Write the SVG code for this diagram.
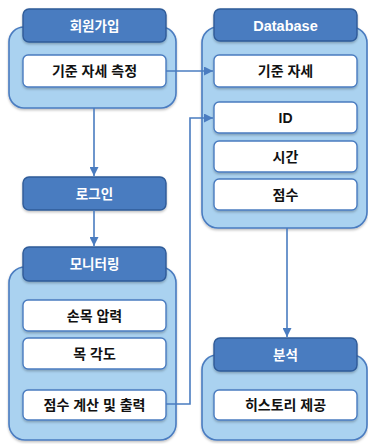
<svg xmlns="http://www.w3.org/2000/svg" width="368" height="444" viewBox="0 0 368 444">
<defs>
<style>
.cont{fill:#aad2f0;stroke:#4a7cc0;stroke-width:1.6}
.head{fill:#4a7cc0;stroke:#2f5b98;stroke-width:1.4}
.item{fill:#ffffff;stroke:#4a7cc0;stroke-width:1.4}
.ht{font-family:"Liberation Sans","Noto Sans CJK KR",sans-serif;font-weight:bold;font-size:13.5px;fill:#ffffff;text-anchor:middle}
.it{font-family:"Liberation Sans","Noto Sans CJK KR",sans-serif;font-weight:bold;font-size:14px;fill:#111111;text-anchor:middle}
.conn{fill:none;stroke:#4a7cc0;stroke-width:1.6}
</style>
<marker id="arr" viewBox="0 0 10 10" refX="10" refY="5" markerWidth="9" markerHeight="9" orient="auto" markerUnits="userSpaceOnUse">
<path d="M0,0 L10,5 L0,10 z" fill="#4a7cc0"/>
</marker>
<filter id="sh" x="-10%" y="-10%" width="120%" height="130%">
<feDropShadow dx="0" dy="1.5" stdDeviation="1.2" flood-color="#000" flood-opacity="0.25"/>
</filter>
</defs>
<rect width="368" height="444" fill="#ffffff"/>

<g id="signup">
<rect class="cont" x="9" y="27" width="167" height="81" rx="15" filter="url(#sh)"/>
<rect class="head" x="23" y="9" width="143" height="33" rx="6" filter="url(#sh)"/>
<text class="ht" x="94.5" y="30.5">회원가입</text>
<g id="signup-measure">
<rect class="item" x="23" y="55" width="143" height="32" rx="5" filter="url(#sh)"/>
<text class="it" x="94.5" y="76">기준 자세 측정</text>
</g>
</g>

<g id="database">
<rect class="cont" x="202" y="27" width="165" height="201" rx="16" filter="url(#sh)"/>
<rect class="head" x="214" y="9" width="143" height="32" rx="6" filter="url(#sh)"/>
<text class="ht" x="285.5" y="30.5" style="font-size:14.5px">Database</text>
<g id="db-pose">
<rect class="item" x="214" y="55" width="143" height="32" rx="5" filter="url(#sh)"/>
<text class="it" x="285.5" y="76">기준 자세</text>
</g>
<g id="db-id">
<rect class="item" x="214" y="102" width="143" height="31" rx="5" filter="url(#sh)"/>
<text class="it" x="285.5" y="122.5">ID</text>
</g>
<g id="db-time">
<rect class="item" x="214" y="141" width="143" height="31" rx="5" filter="url(#sh)"/>
<text class="it" x="285.5" y="161.5">시간</text>
</g>
<g id="db-score">
<rect class="item" x="214" y="179" width="143" height="31" rx="5" filter="url(#sh)"/>
<text class="it" x="285.5" y="199.5">점수</text>
</g>
</g>

<g id="login">
<rect class="head" x="23" y="177" width="143" height="33" rx="6" filter="url(#sh)"/>
<text class="ht" x="94.5" y="198.5">로그인</text>
</g>

<g id="monitoring">
<rect class="cont" x="9" y="267" width="167" height="173" rx="16" filter="url(#sh)"/>
<rect class="head" x="23" y="247" width="143" height="34" rx="6" filter="url(#sh)"/>
<text class="ht" x="94.5" y="269">모니터링</text>
<g id="mon-wrist">
<rect class="item" x="23" y="300" width="143" height="31" rx="5" filter="url(#sh)"/>
<text class="it" x="94.5" y="320.5">손목 압력</text>
</g>
<g id="mon-neck">
<rect class="item" x="23" y="338" width="143" height="31" rx="5" filter="url(#sh)"/>
<text class="it" x="94.5" y="358.5">목 각도</text>
</g>
<g id="mon-score">
<rect class="item" x="23" y="390" width="143" height="30" rx="5" filter="url(#sh)"/>
<text class="it" x="94.5" y="410">점수 계산 및 출력</text>
</g>
</g>

<g id="analysis">
<rect class="cont" x="202" y="355" width="165" height="85" rx="15" filter="url(#sh)"/>
<rect class="head" x="214" y="338" width="143" height="33" rx="6" filter="url(#sh)"/>
<text class="ht" x="285.5" y="359.5">분석</text>
<g id="an-history">
<rect class="item" x="214" y="390" width="143" height="30" rx="5" filter="url(#sh)"/>
<text class="it" x="285.5" y="410">히스토리 제공</text>
</g>
</g>

<g id="connectors">
<path class="conn" d="M166,71 H213" marker-end="url(#arr)"/>
<path class="conn" d="M94,108 V176" marker-end="url(#arr)"/>
<path class="conn" d="M94,210 V246" marker-end="url(#arr)"/>
<path class="conn" d="M166,404 H190 V118 H213" marker-end="url(#arr)"/>
<path class="conn" d="M287,228 V337" marker-end="url(#arr)"/>
</g>
</svg>
